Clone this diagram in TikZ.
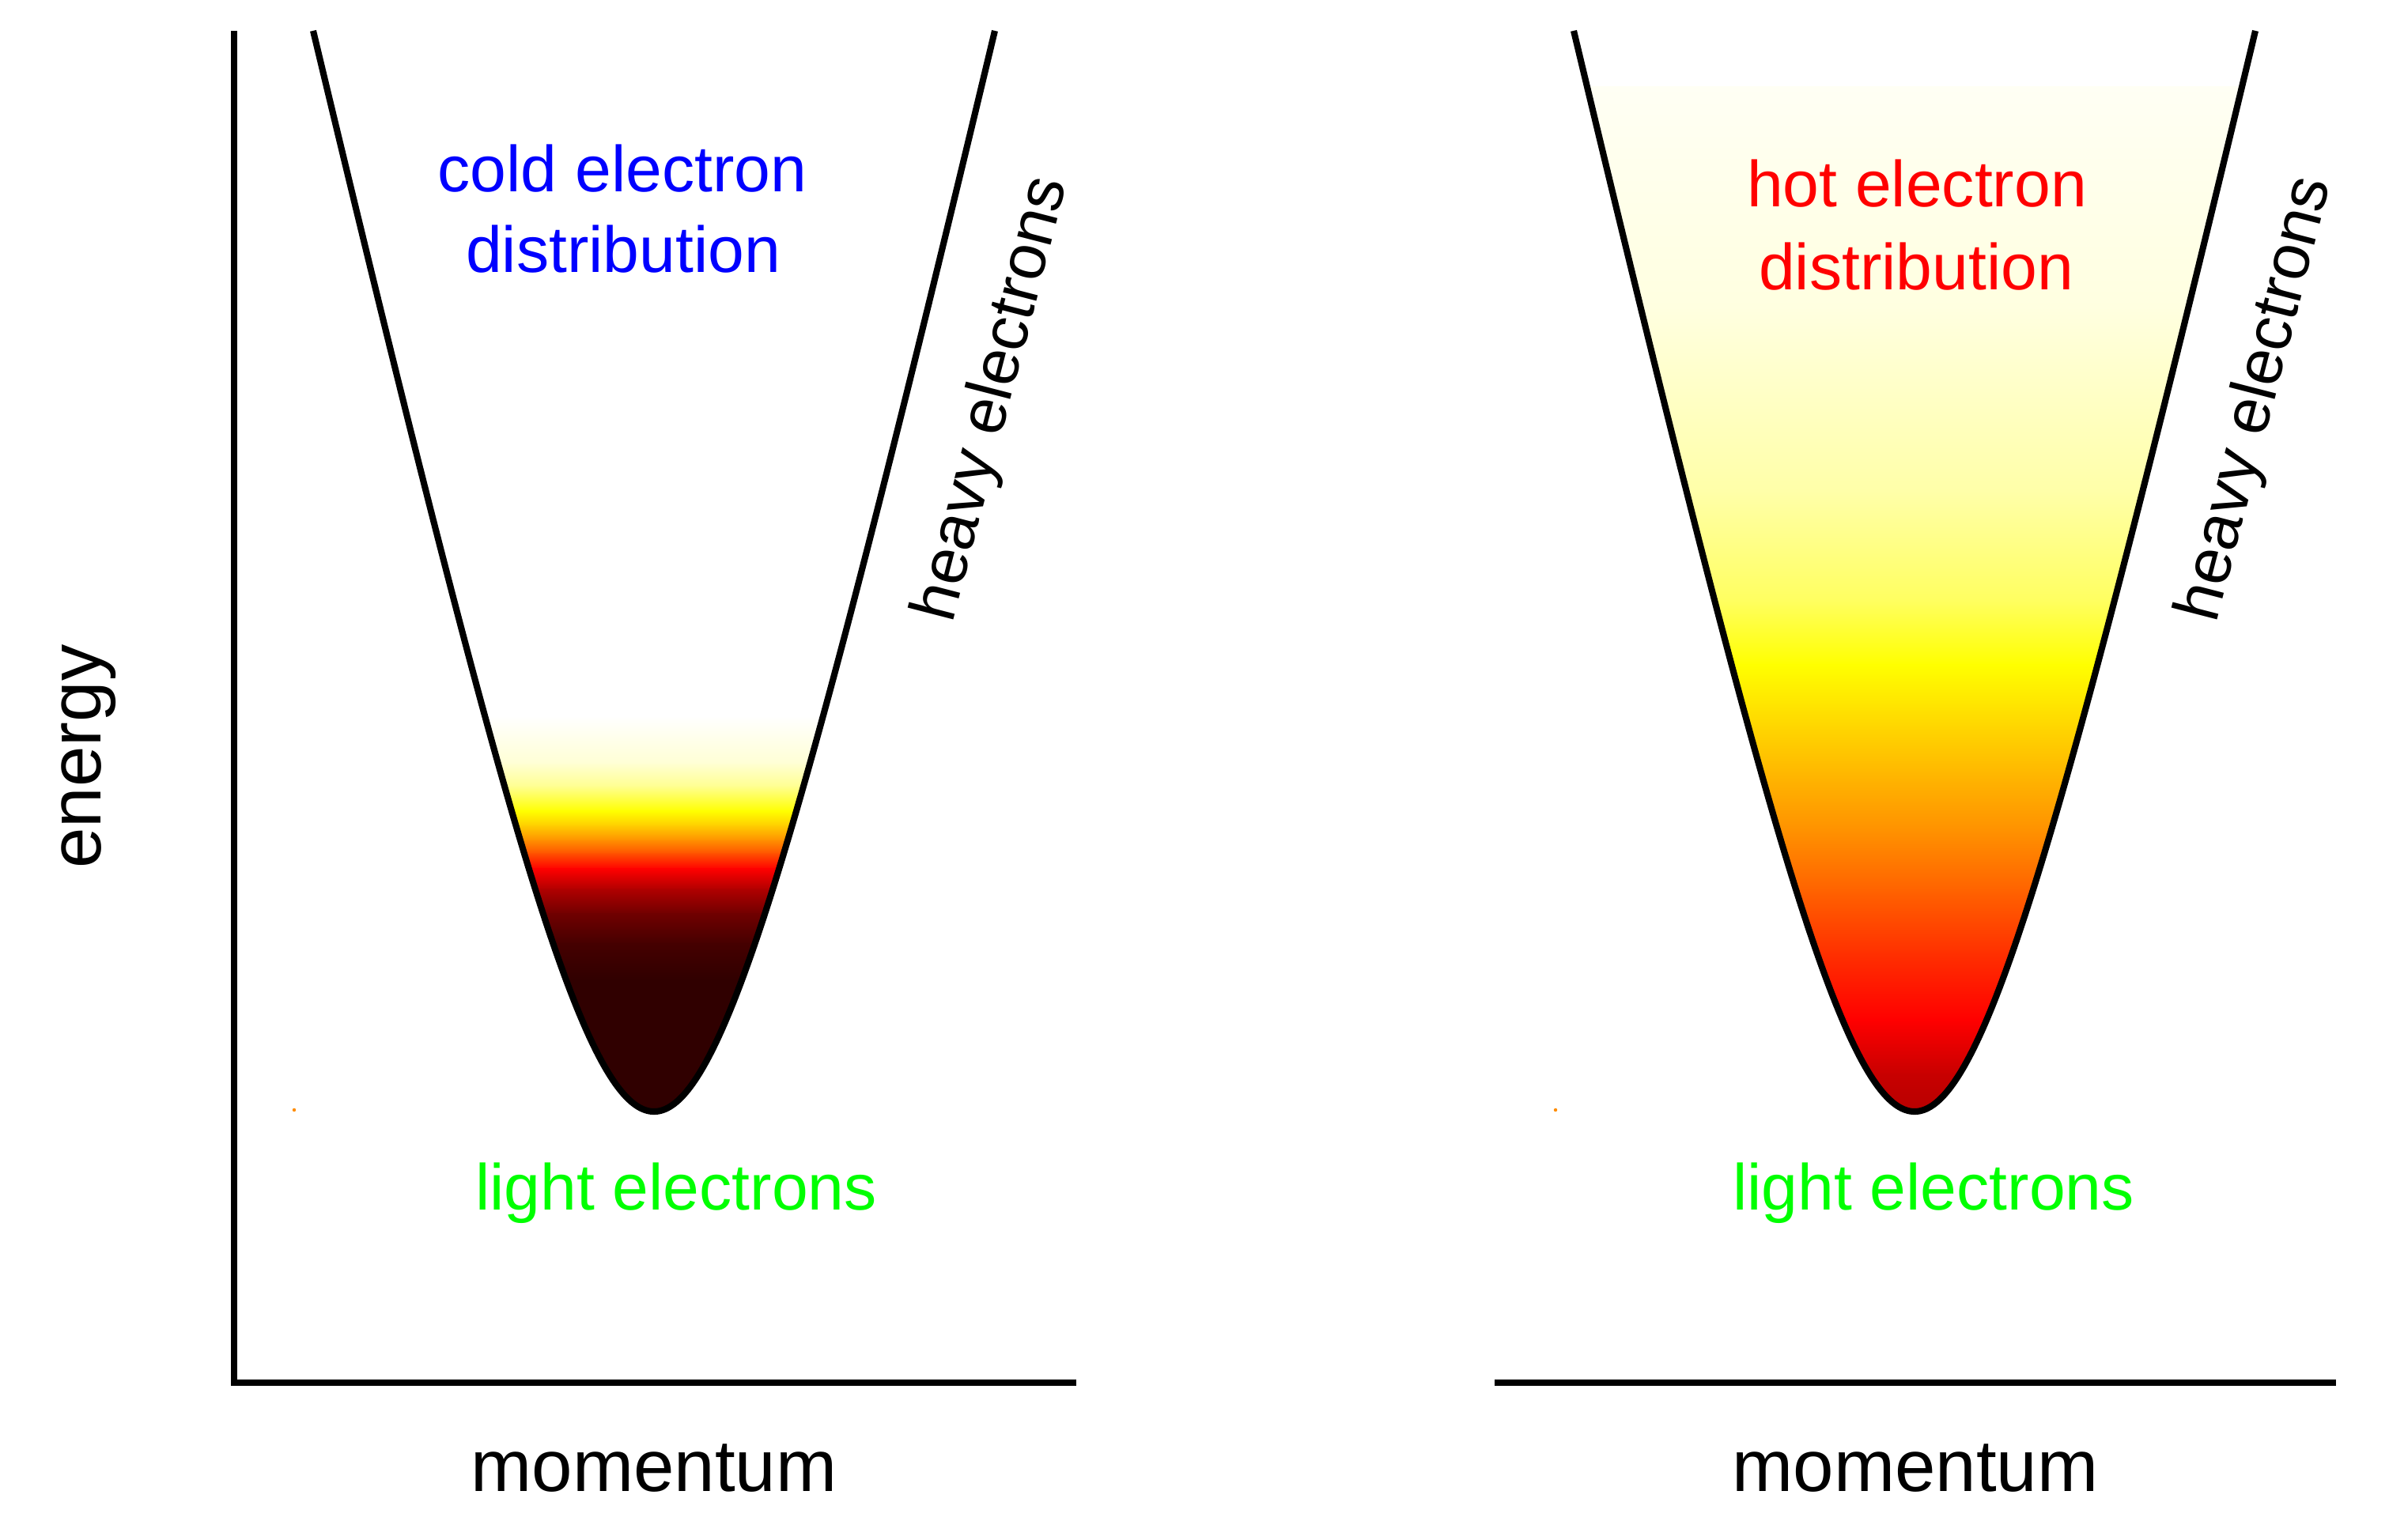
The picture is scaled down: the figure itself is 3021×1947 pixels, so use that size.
\documentclass[tikz,border=0pt]{standalone}
\usepackage{fontspec}
\setmainfont{Liberation Sans}
\definecolor{Lc1}{RGB}{255,255,213}
\definecolor{Lc2}{RGB}{255,255,144}
\definecolor{Lc3}{RGB}{255,255,0}
\definecolor{Lc4}{RGB}{255,204,0}
\definecolor{Lc5}{RGB}{255,140,0}
\definecolor{Lc6}{RGB}{255,80,0}
\definecolor{Lc7}{RGB}{255,0,0}
\definecolor{Lc8}{RGB}{176,0,0}
\definecolor{Lc9}{RGB}{112,0,0}
\definecolor{Lc10}{RGB}{69,0,0}
\definecolor{Lc11}{RGB}{48,0,0}
\definecolor{Rc0}{RGB}{255,255,244}
\definecolor{Rc1}{RGB}{255,255,224}
\definecolor{Rc2}{RGB}{255,255,168}
\definecolor{Rc3}{RGB}{255,255,96}
\definecolor{Rc4}{RGB}{255,255,0}
\definecolor{Rc5}{RGB}{255,224,0}
\definecolor{Rc6}{RGB}{255,184,0}
\definecolor{Rc7}{RGB}{255,144,0}
\definecolor{Rc8}{RGB}{255,96,0}
\definecolor{Rc9}{RGB}{255,48,0}
\definecolor{Rc10}{RGB}{255,0,0}
\definecolor{Rc11}{RGB}{200,0,0}
\definecolor{Rc12}{RGB}{176,0,0}
\definecolor{dotc}{RGB}{255,140,0}
\newcommand\bandcurve[1]{plot[domain=-431:431,samples=301] ({#1+\x},{1406-640*(sqrt(1+(\x/145)^2)-1)})}
\begin{document}
\begin{tikzpicture}[x=0.01cm,y=-0.01cm,
  curve/.style={line width=2.3pt,black},
  axisline/.style={line width=2.15pt,black,line join=miter},
  lab/.style={inner sep=0pt,anchor=base,font=\fontsize{23.4}{28}\selectfont},
  axlab/.style={inner sep=0pt,anchor=base,font=\fontsize{26.3}{31}\selectfont}]
\useasboundingbox (0,0) rectangle (3021,1947);
\fill[white] (0,0) rectangle (3021,1947);

% left (cold) filling
\begin{scope}
\clip \bandcurve{827} -- cycle;
\foreach \ya/\yb/\ca/\cb in {906/965/white/Lc1, 965/995/Lc1/Lc2, 995/1026/Lc2/Lc3, 1026/1045/Lc3/Lc4, 1045/1064/Lc4/Lc5, 1064/1080/Lc5/Lc6, 1080/1099/Lc6/Lc7, 1099/1125/Lc7/Lc8, 1125/1156/Lc8/Lc9, 1156/1194/Lc9/Lc10, 1194/1240/Lc10/Lc11}
  {\shade[top color=\ca,bottom color=\cb] (380,\ya-0.6) rectangle (1280,\yb+0.6);}
\fill[Lc11] (380,1239.5) rectangle (1280,1430);
\end{scope}

% right (hot) filling
\begin{scope}
\clip \bandcurve{2421} -- cycle;
\foreach \ya/\yb/\ca/\cb in {110/389/Rc0/Rc1, 389/623/Rc1/Rc2, 623/760/Rc2/Rc3, 760/841/Rc3/Rc4, 841/900/Rc4/Rc5, 900/977/Rc5/Rc6, 977/1053/Rc6/Rc7, 1053/1130/Rc7/Rc8, 1130/1206/Rc8/Rc9, 1206/1290/Rc9/Rc10, 1290/1359/Rc10/Rc11, 1359/1430/Rc11/Rc12}
  {\shade[top color=\ca,bottom color=\cb] (1970,\ya-0.6) rectangle (2880,\yb+0.6);}
\end{scope}

% dispersion curves
\draw[curve] \bandcurve{827};
\draw[curve] \bandcurve{2421};

% axes
\draw[axisline] (296,39) -- (296,1749) -- (1361,1749);
\draw[axisline] (1890,1749) -- (2954,1749);

% tiny specks
\fill[dotc] (372,1404) circle (2.2);
\fill[dotc] (1967,1404) circle (2.2);

% labels
\node[lab,blue] (cold1) at (787,242) {cold electron};
\node[lab,blue] (cold2) at (788,344) {distribution};
\node[lab,red] (hot1) at (2424,261) {hot electron};
\node[lab,red] (hot2) at (2423,366) {distribution};
\node[lab,rotate=75.5] (heavyL) at (1277,510) {heavy electrons};
\node[lab,rotate=75.5] (heavyR) at (2875,510) {heavy electrons};
\node[lab,green] (lightL) at (855,1530) {light electrons};
\node[lab,green] (lightR) at (2445,1530) {light electrons};
\node[axlab] (momL) at (827,1886) {momentum};
\node[axlab] (momR) at (2422,1886) {momentum};
\node[axlab,rotate=90] (energy) at (127,957) {energy};
\end{tikzpicture}
\end{document}
